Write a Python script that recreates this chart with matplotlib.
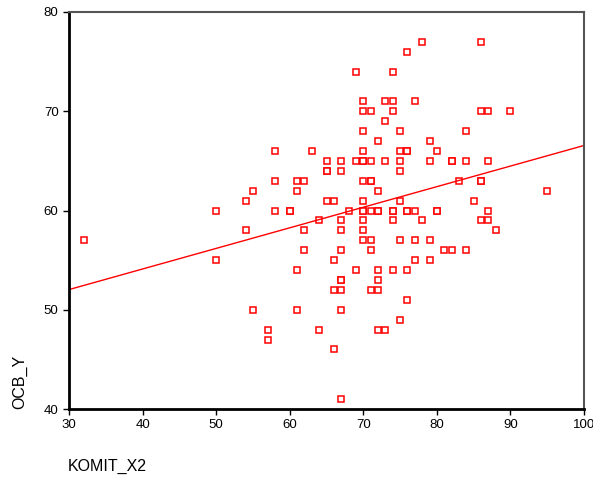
import numpy as np
import matplotlib
matplotlib.use("Agg")
import matplotlib.pyplot as plt

plt.rcParams['font.family'] = ['Liberation Sans', 'DejaVu Sans']

# KOMIT_X2 (x) vs OCB_Y (y); bold markers counted twice
komit_x2 = [32, 50, 50, 54, 54, 55, 55, 57, 57, 58, 58, 58, 60, 60,
            61, 61, 61, 61, 62, 62, 62, 63, 64, 64, 65, 65, 65, 65,
            66, 66, 66, 66, 67, 67, 67, 67, 67, 67, 67, 67, 67, 67,
            68, 69, 69, 69, 70, 70, 70, 70, 70, 70, 70, 70, 70, 70,
            70, 70, 70, 71, 71, 71, 71, 71, 71, 71, 71, 72, 72, 72,
            72, 72, 72, 72, 72, 73, 73, 73, 73, 74, 74, 74, 74, 74,
            74, 74, 75, 75, 75, 75, 75, 75, 75, 76, 76, 76, 76, 76,
            76, 76, 77, 77, 77, 77, 78, 78, 79, 79, 79, 79, 80, 80,
            80, 81, 82, 82, 82, 83, 84, 84, 84, 85, 86, 86, 86, 86,
            86, 87, 87, 87, 87, 88, 90, 95]
ocb_y = [57, 60, 55, 61, 58, 62, 50, 48, 47, 66, 63, 60, 60, 60,
         63, 62, 54, 50, 63, 58, 56, 66, 59, 48, 65, 64, 64, 61,
         61, 55, 52, 46, 65, 64, 59, 58, 56, 53, 53, 52, 50, 41,
         60, 74, 65, 54, 71, 70, 68, 66, 65, 65, 63, 61, 60, 60,
         59, 58, 57, 70, 65, 63, 63, 60, 57, 56, 52, 67, 62, 60,
         60, 54, 53, 52, 48, 71, 69, 65, 48, 74, 71, 70, 60, 60,
         59, 54, 68, 66, 65, 64, 61, 57, 49, 76, 66, 66, 60, 60,
         54, 51, 71, 60, 57, 55, 77, 59, 67, 65, 57, 55, 66, 60,
         60, 56, 65, 65, 56, 63, 68, 65, 56, 61, 77, 70, 63, 63,
         59, 70, 65, 60, 59, 58, 70, 62]

x_ticks = [30, 40, 50, 60, 70, 80, 90, 100]
y_ticks = [40, 50, 60, 70, 80]

x = np.array(komit_x2)
y = np.array(ocb_y)
slope, intercept = np.polyfit(x, y, 1)

fig = plt.figure(figsize=(5.93, 4.78), dpi=100)
ax = fig.add_axes([69/593, 1 - 409/478, (584 - 69)/593, (409 - 12)/478])

ax.plot(x, y, linestyle='none', marker='s', markersize=4.8,
        markerfacecolor='white', markeredgecolor='red', markeredgewidth=1.1)

xl = np.array([30, 100])
ax.plot(xl, intercept + slope * xl, color='red', linewidth=1.0)

ax.set_xlim(30, 100)
ax.set_ylim(40, 80)
ax.set_xticks(x_ticks)
ax.set_yticks(y_ticks)
ax.tick_params(direction='out', length=4, width=1, labelsize=9.5, colors='black')

for s in ['left', 'bottom']:
    ax.spines[s].set_linewidth(2)
    ax.spines[s].set_color('black')
for s in ['top', 'right']:
    ax.spines[s].set_linewidth(1.5)
    ax.spines[s].set_color('#555555')

fig.text(68/593, 1 - 466/478, 'KOMIT_X2', fontsize=11.5, ha='left', va='center')
fig.text(20/593, 1 - 409/478, 'OCB_Y', fontsize=11.5, rotation=90, ha='center', va='bottom')

fig.savefig('out.png', dpi=100)
